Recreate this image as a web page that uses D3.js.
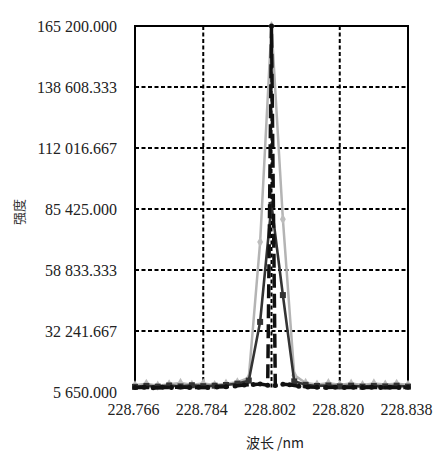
<!DOCTYPE html>
<html>
<head>
<meta charset="utf-8">
<script src="https://cdn.jsdelivr.net/npm/d3@7"></script>
<style>
    body { margin: 0; background: #fff; }
</style>
</head>
<body>
<div id="chart"></div>
<script>
// wavelength positions (nm) of the two wide series
var waveA = [228.766, 228.769, 228.772, 228.775, 228.778, 228.781, 228.784, 228.787, 228.790,
    228.793, 228.796, 228.799, 228.802, 228.805, 228.808, 228.811, 228.814, 228.817,
    228.820, 228.823, 228.826, 228.829, 228.832, 228.835, 228.838];

// light gray series (diamonds)
var grayVals = [8600, 9200, 8400, 9000, 9600, 8800, 9400, 8700, 9300,
    9900, 11800, 71000, 165200, 81000, 13000, 9600, 8900, 9500,
    8800, 9300, 8700, 9400, 8900, 9200, 8800];

// dark gray series (squares)
var darkVals = [7900, 8300, 8000, 8500, 8100, 8600, 8200, 8400, 8700,
    9300, 10600, 36200, 87200, 47900, 10300, 8800, 8300, 8500,
    8100, 8400, 8000, 8300, 8100, 8400, 8000];

// wavelength positions (nm) of the narrow black series
var waveB = [228.7660, 228.7684, 228.7708, 228.7732, 228.7756, 228.7780, 228.7804, 228.7828,
    228.7852, 228.7876, 228.7900, 228.7924, 228.7948, 228.7972, 228.7990, 228.8010, 228.8020,
    228.8030, 228.8050, 228.8068, 228.8092, 228.8116, 228.8140, 228.8164, 228.8188, 228.8212,
    228.8236, 228.8260, 228.8284, 228.8308, 228.8332, 228.8356, 228.8380];

var blackVals = [7600, 7700, 7500, 7700, 7600, 7800, 7600, 7700,
    7600, 7800, 7900, 8300, 8700, 8900, 9100, 8600, 165200,
    8500, 9000, 8800, 8200, 7800, 7700, 7600, 7700, 7600,
    7700, 7600, 7700, 7600, 7700, 7600, 7700];

var yTicks = [5650, 32241.667, 58833.333, 85425, 112016.667, 138608.333, 165200];
var xTicks = [228.766, 228.784, 228.802, 228.820, 228.838];

var margin = { top: 26, right: 33, bottom: 67, left: 135 };
var width = 441 - margin.left - margin.right;
var height = 459 - margin.top - margin.bottom;

var svg = d3.select("#chart")
    .append("svg")
    .attr("width", 441)
    .attr("height", 459)
    .append("g")
    .attr("transform", "translate(" + margin.left + "," + margin.top + ")");

var x = d3.scaleLinear()
    .domain([228.766, 228.838])
    .range([0, width]);

var y = d3.scaleLinear()
    .domain([5650, 165200])
    .range([height, 0]);

// "165 200.000" style numbers
var loc = d3.formatLocale({ decimal: ".", thousands: " ", grouping: [3], currency: ["", ""] });
var fmtY = loc.format(",.3f");

// dashed grid lines
svg.append("g")
    .selectAll("line")
    .data(yTicks.slice(1, -1))
    .enter()
    .append("line")
    .attr("x1", 0)
    .attr("x2", width)
    .attr("y1", function (d) { return y(d); })
    .attr("y2", function (d) { return y(d); })
    .attr("stroke", "#000")
    .attr("stroke-width", 2)
    .attr("stroke-dasharray", "4,2.5");

svg.append("g")
    .selectAll("line")
    .data(xTicks.slice(1, -1))
    .enter()
    .append("line")
    .attr("x1", function (d) { return x(d); })
    .attr("x2", function (d) { return x(d); })
    .attr("y1", 0)
    .attr("y2", height - 4)
    .attr("stroke", "#000")
    .attr("stroke-width", 2)
    .attr("stroke-dasharray", "4,2.5");

// frame: top, left, right
svg.append("path")
    .attr("d", "M0," + (height - 4) + "V0H" + width + "V" + (height - 4))
    .attr("fill", "none")
    .attr("stroke", "#000")
    .attr("stroke-width", 2);

// axes (labels only)
var yAxis = svg.append("g")
    .call(d3.axisLeft(y).tickValues(yTicks).tickFormat(fmtY).tickSize(0).tickPadding(18));
yAxis.select(".domain").remove();
yAxis.selectAll("text")
    .style("font-family", "'Liberation Serif', serif")
    .style("font-size", "16px")
    .attr("fill", "#222")
    .attr("dy", "0.36em");

var xAxis = svg.append("g")
    .attr("transform", "translate(0," + height + ")")
    .call(d3.axisBottom(x).tickValues(xTicks).tickFormat(d3.format(".3f")).tickSize(0).tickPadding(12));
xAxis.select(".domain").remove();
xAxis.selectAll("text")
    .style("font-family", "'Liberation Serif', serif")
    .style("font-size", "16px")
    .attr("fill", "#222")
    .attr("dx", "-2");

// axis titles
svg.append("text")
    .attr("transform", "rotate(-90)")
    .attr("x", -186)
    .attr("y", -111)
    .attr("text-anchor", "middle")
    .style("font-family", "'Noto Sans CJK SC'")
    .style("font-size", "13px")
    .attr("fill", "#333")
    .text("强度");

svg.append("text")
    .attr("x", 140)
    .attr("y", height + 56)
    .attr("text-anchor", "middle")
    .style("font-family", "'Noto Sans CJK SC'")
    .style("font-size", "14px")
    .attr("fill", "#222")
    .text("波长 /nm");

var line = d3.line()
    .x(function (d) { return x(d[0]); })
    .y(function (d) { return y(d[1]); });

var grayData = d3.zip(waveA, grayVals);
var darkData = d3.zip(waveA, darkVals);
var blackData = d3.zip(waveB, blackVals);

// light gray series with diamonds
svg.append("path")
    .datum(grayData)
    .attr("d", line)
    .attr("fill", "none")
    .attr("stroke", "#b4b4b4")
    .attr("stroke-width", 2.5);

svg.selectAll(".dia")
    .data(grayData)
    .enter()
    .append("path")
    .attr("class", "dia")
    .attr("d", d3.symbol().type(d3.symbolDiamond).size(30))
    .attr("transform", function (d) { return "translate(" + x(d[0]) + "," + y(d[1]) + ")"; })
    .attr("fill", "#bdbdbd");

// dark gray series with squares
svg.append("path")
    .datum(darkData)
    .attr("d", line)
    .attr("fill", "none")
    .attr("stroke", "#333")
    .attr("stroke-width", 2.6);

svg.selectAll(".sq")
    .data(darkData)
    .enter()
    .append("rect")
    .attr("class", "sq")
    .attr("x", function (d) { return x(d[0]) - 3; })
    .attr("y", function (d) { return y(d[1]) - 3; })
    .attr("width", 6)
    .attr("height", 6)
    .attr("fill", "#333");

// black long-dash series with dots
svg.append("path")
    .datum(blackData)
    .attr("d", line)
    .attr("fill", "none")
    .attr("stroke", "#111")
    .attr("stroke-width", 3.5)
    .attr("stroke-dasharray", "14,6");

svg.selectAll(".dot")
    .data(blackData)
    .enter()
    .append("circle")
    .attr("class", "dot")
    .attr("cx", function (d) { return x(d[0]); })
    .attr("cy", function (d) { return y(d[1]); })
    .attr("r", 2.5)
    .attr("fill", "#111");
</script>
</body>
</html>
